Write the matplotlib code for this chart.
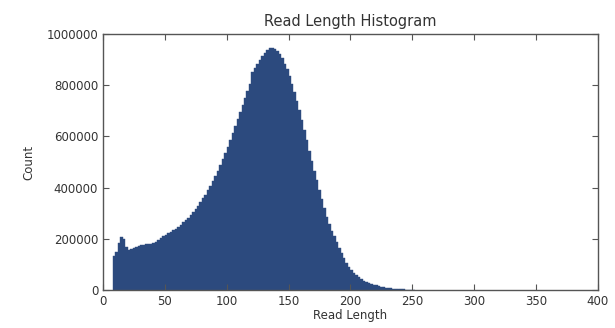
import matplotlib
matplotlib.use("Agg")
import matplotlib.pyplot as plt
import numpy as np

# read lengths, binned in steps of 2 (left edges), and counts
bin_starts = list(range(8, 252, 2))
counts = [
    132000, 150000, 185000, 207000, 200000, 168000, 158000, 160000, 163000, 167000,
    172000, 176000, 177000, 178000, 178000, 179000, 182000, 188000, 196000, 203000,
    210000, 216000, 221000, 227000, 233000, 240000, 247000, 255000, 264000, 273000,
    283000, 294000, 305000, 317000, 330000, 344000, 358000, 373000, 389000, 406000,
    424000, 444000, 465000, 487000, 510000, 535000, 560000, 586000, 613000, 640000,
    667000, 694000, 722000, 750000, 778000, 805000, 850000, 868000, 885000, 900000,
    915000, 928000, 938000, 944000, 945000, 941000, 934000, 922000, 906000, 885000,
    862000, 836000, 806000, 773000, 738000, 702000, 664000, 625000, 585000, 545000,
    505000, 466000, 428000, 391000, 355000, 320000, 287000, 256000, 232000, 212000,
    188000, 165000, 143000, 123000, 106000, 91000, 78000, 66000, 58000, 50000,
    42000, 36000, 31000, 29000, 25000, 21000, 17500, 14500, 13000, 11000,
    9000, 7400, 6000, 5000, 4000, 3200, 2500, 1900, 1400, 1000,
    700, 500,
]
edges = bin_starts + [bin_starts[-1] + 2]

xticks = [0, 50, 100, 150, 200, 250, 300, 350, 400]
yticks = [0, 200000, 400000, 600000, 800000, 1000000]

plt.rcParams['font.family'] = ['DejaVu Sans']
plt.rcParams['font.size'] = 8

fig = plt.figure(figsize=(6.15, 3.28), dpi=100)
fig.patch.set_facecolor('white')
ax = fig.add_axes([0.1675, 0.116, 0.8045, 0.78])

ax.hist(bin_starts, bins=edges, weights=counts, color='#2c4a7e',
        edgecolor='#2c4a7e', linewidth=0.3)

ax.set_xlim(0, 400)
ax.set_ylim(0, 1000000)
ax.set_xticks(xticks)
ax.set_yticks(yticks)
ax.set_yticklabels([str(v) for v in yticks])
ax.tick_params(direction='in', top=True, right=True, length=4, width=0.8,
               colors='#555555', labelcolor='#333333', labelsize=8.5)
for s in ax.spines.values():
    s.set_color('#555555')
    s.set_linewidth(1.0)

ax.set_title('Read Length Histogram', fontsize=10.5, color='#333333', pad=6)
ax.set_xlabel('Read Length', fontsize=8.5, color='#333333', labelpad=1)
ax.set_ylabel('Count', fontsize=8.5, color='#333333', labelpad=8)

fig.savefig('out.png', dpi=100, facecolor='white')
